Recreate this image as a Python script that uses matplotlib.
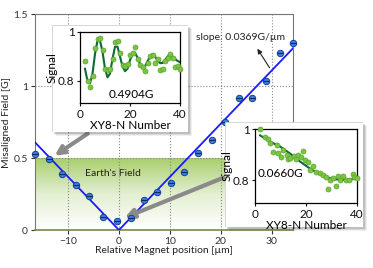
import matplotlib
matplotlib.use('Agg')
import matplotlib.pyplot as plt
from matplotlib.patches import Rectangle
from matplotlib.colors import LinearSegmentedColormap
import numpy as np

plt.rcParams['font.family'] = ['Lato', 'DejaVu Sans']
plt.rcParams['font.size'] = 7.5

# main panel: misaligned field vs relative magnet position
pos = [-16.5, -13.7, -11.1, -8.4, -5.8, -3.1, -0.45, 2.3, 4.9, 7.5,
       10.2, 12.8, 15.5, 18.2, 20.8, 23.5, 26.1, 28.8, 31.6, 34.2]
field = [0.528, 0.49, 0.39, 0.31, 0.236, 0.092, 0.065, 0.085, 0.208, 0.264,
         0.324, 0.405, 0.532, 0.625, 0.752, 0.92, 0.915, 1.035, 1.23, 1.297]
slope = 0.0369
x_min, x_max = -16.5, 34.2
earth_field = 0.5

# inset 1: 0.4904G
n1 = list(range(2, 41))
sig1 = [0.88, 0.80, 0.775, 0.82, 0.935, 0.97, 0.975, 0.925, 0.85, 0.845,
        0.85, 0.89, 0.96, 0.965, 0.915, 0.865, 0.86, 0.87, 0.905, 0.915,
        0.94, 0.89, 0.865, 0.855, 0.84, 0.875, 0.90, 0.905, 0.875, 0.89,
        0.845, 0.85, 0.88, 0.895, 0.912, 0.895, 0.855, 0.86, 0.85]
fit1 = [0.85, 0.80, 0.79, 0.83, 0.91, 0.965, 0.965, 0.92, 0.85, 0.815,
        0.83, 0.89, 0.94, 0.94, 0.90, 0.86, 0.84, 0.85, 0.885, 0.91,
        0.915, 0.895, 0.87, 0.858, 0.86, 0.88, 0.90, 0.91, 0.90, 0.885,
        0.873, 0.873, 0.885, 0.90, 0.905, 0.90, 0.89, 0.882, 0.877]

# inset 2: 0.0660G
n2 = [2, 3.9, 5.2, 5.9, 7.2, 8.5, 9.1, 10.2, 11.1, 12.4,
      13, 13.9, 15.2, 16, 16.9, 18.2, 18.8, 19.5, 20.8, 21.5,
      22.7, 23.9, 25.4, 26.7, 28, 28.7, 29.6, 30.6, 31.7, 32.6,
      33.5, 34.5, 35.8, 36.8, 38.4, 39, 40]
sig2 = [1.0, 0.97, 0.96, 0.945, 0.908, 0.938, 0.905, 0.892, 0.918, 0.899,
        0.882, 0.886, 0.895, 0.883, 0.899, 0.892, 0.912, 0.879, 0.872, 0.839,
        0.855, 0.833, 0.826, 0.82, 0.813, 0.763, 0.80, 0.808, 0.776, 0.815,
        0.80, 0.815, 0.80, 0.80, 0.822, 0.812, 0.807]
fit2_n = [2, 6, 10, 14, 18, 22, 26, 30, 34, 38, 40]
fit2 = [0.975, 0.95, 0.93, 0.902, 0.87, 0.842, 0.82, 0.805, 0.80, 0.803, 0.806]

W, H = 373, 268
fig = plt.figure(figsize=(W / 100, H / 100), dpi=100)

def frac(x0, y0, x1, y1):
    # pixel box (top-left origin) -> figure fraction rect
    return [x0 / W, 1 - y1 / H, (x1 - x0) / W, (y1 - y0) / H]

ax = fig.add_axes(frac(35, 14, 293, 230))
ax.set_xlim(x_min, x_max)
ax.set_ylim(0, 1.5)

green = LinearSegmentedColormap.from_list('g', ['#ffffff', '#e3efd2', '#a9cf6e'])
grad = np.linspace(0, 1, 100).reshape(-1, 1)
ax.imshow(grad, cmap=green, origin='lower', aspect='auto',
          extent=[x_min, x_max, 0, earth_field], zorder=0)
ax.text(-1.2, 0.39, "Earth's Field", ha='center', va='center', fontsize=7.5, color='#222222')

ax.grid(True, linestyle=':', color='#888888', linewidth=0.8)
ax.set_axisbelow(True)

lx = np.array([x_min, 0, x_max])
ax.plot(lx, slope * np.abs(lx), color='#1a1aff', lw=1.3, zorder=3)
ax.plot(pos, field, 'o', ms=4.6, mfc='#3a7ee0', mec='#1a3f95', mew=0.7, zorder=4, clip_on=False)
ax.plot(pos, field, '_', ms=4, color='#0d2a66', mew=0.8, zorder=5, clip_on=False)

ax.annotate('', xy=(26.9, 1.275), xytext=(29.9, 1.11),
            arrowprops=dict(arrowstyle='-|>', color='#222222', lw=0.8, mutation_scale=7))
ax.text(23.8, 1.34, 'slope: 0.0369G/µm', ha='center', va='center', fontsize=7.5, color='#222222')

gray_arrow = dict(arrowstyle='-|>', color='#8a8a8a', lw=3, mutation_scale=13)
ax.annotate('', xy=(-13.1, 0.505), xytext=(-5.7, 0.68), arrowprops=gray_arrow)
ax.annotate('', xy=(0.6, 0.078), xytext=(21.0, 0.37), arrowprops=gray_arrow)

ax.set_xticks([-10, 0, 10, 20, 30])
ax.set_yticks([0, 0.5, 1, 1.5])
ax.set_yticklabels(['0', '0.5', '1', '1.5'])
ax.tick_params(direction='out', length=3, width=0.8, colors='#333333', pad=2)
for s in ax.spines.values():
    s.set_color('#777777')
    s.set_linewidth(0.8)
ax.spines['bottom'].set_color('#6f8c4a')
ax.spines['bottom'].set_linewidth(1.2)
ax.set_xlabel('Relative Magnet position [µm]', labelpad=0, color='#222222')
ax.set_ylabel('Misaligned Field [G]', labelpad=2, color='#222222')


def inset(box, rect, n, sig, fn, fit, label, lpos, lha):
    bx = fig.add_axes(frac(*box), zorder=2)
    bx.set_axis_off()
    bx.set_xlim(0, 1)
    bx.set_ylim(0, 1)
    bw = box[2] - box[0]
    bh = box[3] - box[1]
    for k, a in [(4, 0.08), (3, 0.12), (2, 0.18)]:
        bx.add_patch(Rectangle((k / bw, -k / bh), 1, 1, facecolor='#404040',
                               edgecolor='none', alpha=a, clip_on=False))
    bx.add_patch(Rectangle((0, 0), 1, 1, facecolor='white', edgecolor='#d0d0d0', lw=0.6))
    ia = fig.add_axes(frac(*rect), zorder=3)
    ia.plot(fn, fit, color='#0b6b33', lw=1.5, zorder=2)
    ia.plot(n, sig, 'o', ms=3.6, mfc='#7cc443', mec='#5aa52d', mew=0.5, zorder=3, clip_on=False)
    ia.set_xlim(0, 40)
    ia.set_ylim(0.71, 1.0)
    ia.set_xticks([0, 20, 40])
    ia.set_yticks([0.8, 1.0])
    ia.set_yticklabels(['0.8', '1'])
    ia.tick_params(direction='out', length=2.5, width=0.8, pad=1.5, colors='#111111',
                   labelsize=8.5)
    for s in ia.spines.values():
        s.set_linewidth(0.9)
    ia.set_xlabel('XY8-N Number', labelpad=0, fontsize=8.5)
    ia.set_ylabel('Signal', labelpad=0, fontsize=8.5)
    ia.text(lpos[0], lpos[1], label, ha=lha, va='center', fontsize=8.5)


inset((52, 25, 188, 132), (80, 32, 180, 103), n1, sig1, n1, fit1,
      '0.4904G', (20.7, 0.743), 'center')
inset((225, 122, 363, 227), (255, 129, 357, 203), n2, sig2, fit2_n, fit2,
      '0.0660G', (1.0, 0.826), 'left')

fig.savefig('out.png', dpi=100)
